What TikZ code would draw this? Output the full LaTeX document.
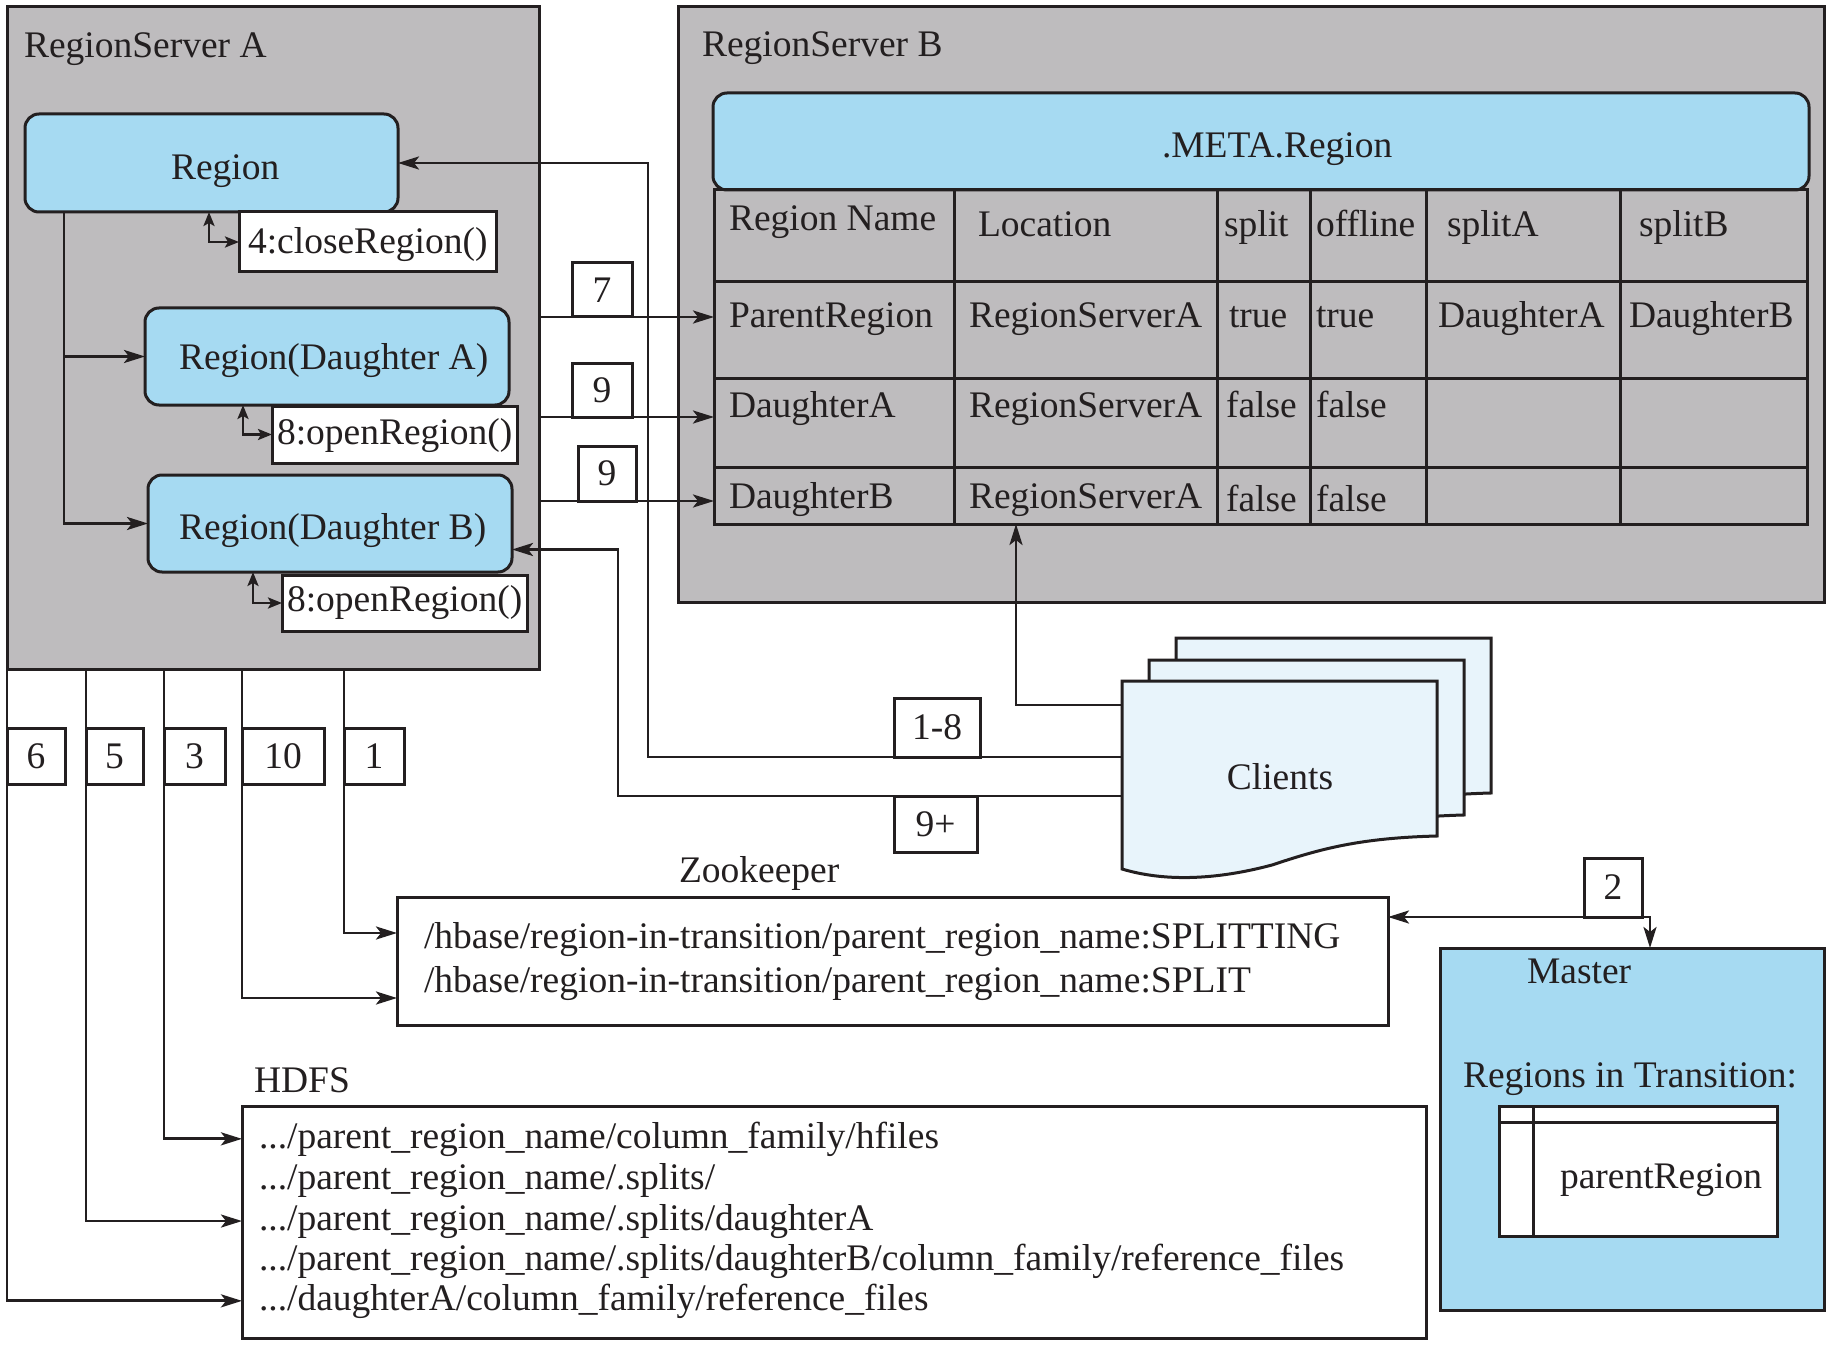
\documentclass[tikz,border=0pt]{standalone}
\usepackage{fontspec}
\setmainfont{Liberation Serif}
\usetikzlibrary{arrows.meta,calc,fit}
\definecolor{ink}{RGB}{35,31,32}
\definecolor{srvgray}{RGB}{190,188,190}
\definecolor{regblue}{RGB}{166,218,242}
\definecolor{sheetblue}{RGB}{232,244,251}
\begin{document}
\begin{tikzpicture}[x=1pt,y=-1pt,
  every node/.style={font=\fontsize{37.5}{44}\selectfont, text=ink, inner sep=0pt, outer sep=0pt},
  frame/.style={draw=ink, line width=3pt, rectangle, inner sep=0pt},
  server/.style={frame, fill=srvgray},
  region/.style={frame, fill=regblue, rounded corners=14pt},
  tag/.style={frame, fill=white},
  txt/.style={anchor=base west},
  conn/.style={draw=ink, line width=2.8pt},
  arr/.style={conn, -{Stealth[length=21pt,width=13pt,inset=5pt]}},
  loopback/.style={conn, line width=2.6pt, {Stealth[length=14pt,width=11pt,inset=3pt]}-{Stealth[length=14pt,width=11pt,inset=3pt]}},
  both/.style={conn, {Stealth[length=21pt,width=13pt,inset=5pt]}-{Stealth[length=21pt,width=13pt,inset=5pt]}},
  sheet/.pic={
    \draw[ink, line width=3pt, fill=sheetblue]
      (0,0) -- (315,0) -- (315,155)
      .. controls (237,157) and (198,168) .. (150,184)
      .. controls (90,200) and (40,200) .. (0,188) -- cycle;
  },
]
\useasboundingbox (0,0) rectangle (1842,1348);
\fill[white] (0,0) rectangle (1842,1348);

% ---------- RegionServer A ----------
\node[server, fit={(7,7) (539,669)}] (rsA) {};
\node[txt] (rsAt) at (24,58) {RegionServer A};

\node[region, fit={(25,114) (398,212)}] (reg) {};
\node[txt] (regt) at (171,180) {Region};
\node[region, fit={(145,308) (509,405)}] (dA) {};
\node[txt] (dAt) at (179,370) {Region(Daughter A)};
\node[region, fit={(148,475) (512,572)}] (dB) {};
\node[txt] (dBt) at (179,539) {Region(Daughter B)};

\node[tag, fit={(239,212) (496,272)}] (tag4) {};
\node[txt] (tag4t) at (248,254) {4:closeRegion()};
\node[tag, fit={(272,406) (517,463)}] (tag8a) {};
\node[txt] (tag8at) at (277,444) {8:openRegion()};
\node[tag, fit={(282,575) (527,631)}] (tag8b) {};
\node[txt] (tag8bt) at (287,611) {8:openRegion()};

% split of the parent into the two daughters
\coordinate (trunk) at (64,0);
\draw[arr] (reg.south -| trunk) |- (dA.west);
\draw[arr] (reg.south -| trunk) |- (dB.west);

% local calls on each region
\draw[loopback] ($(reg.south west)+(184,0)$) |- (tag4.west);
\draw[loopback] ($(dA.south west)+(98,0)$) |- (tag8a.west);
\draw[loopback] ($(dB.south west)+(105,0)$) |- (tag8b.west);

% ---------- RegionServer B with the .META. table ----------
\node[server, fit={(678,7) (1824,602)}] (rsB) {};
\node[txt] (rsBt) at (702,57) {RegionServer B};
\node[region, fit={(713,93) (1809,190)}] (meta) {};
\node[txt] (metat) at (1162,158) {.META.Region};
\node[frame, fit={(714,190) (1807,524)}] (tbl) {};
\foreach \yy in {282,378,467} \draw[conn, line width=3pt] (714,\yy) -- (1807,\yy);
\foreach \xx in {954,1217,1310,1426,1620} \draw[conn, line width=3pt] (\xx,190) -- (\xx,524);

\node[txt] (c11) at (729,231) {Region Name};
\node[txt] (c12) at (978,237) {Location};
\node[txt] (c13) at (1224,237) {split};
\node[txt] (c14) at (1316,237) {offline};
\node[txt] (c15) at (1447,237) {splitA};
\node[txt] (c16) at (1639,237) {splitB};

\node[txt] (c21) at (729,327) {ParentRegion};
\node[txt] (c22) at (969,327) {RegionServerA};
\node[txt] (c23) at (1229,327) {true};
\node[txt] (c24) at (1316,327) {true};
\node[txt] (c25) at (1438,327) {DaughterA};
\node[txt] (c26) at (1629,327) {DaughterB};

\node[txt] (c31) at (729,417) {DaughterA};
\node[txt] (c32) at (969,417) {RegionServerA};
\node[txt] (c33) at (1226,417) {false};
\node[txt] (c34) at (1316,417) {false};

\node[txt] (c41) at (729,508) {DaughterB};
\node[txt] (c42) at (969,508) {RegionServerA};
\node[txt] (c43) at (1226,511) {false};
\node[txt] (c44) at (1316,511) {false};

% ---------- step labels ----------
\node[tag, fit={(572,263) (632,317)}] (lab7) {};
\node[tag, fit={(572,363) (632,417)}] (lab9a) {};
\node[tag, fit={(578,446) (636,501)}] (lab9b) {};
\node[tag, fit={(894,698) (980,757)}] (lab18) {};
\node[tag, fit={(894,796) (977,852)}] (lab9p) {};
\node[tag, fit={(7,728) (65,784)}] (lab6) {};
\node[tag, fit={(86,728) (143,784)}] (lab5) {};
\node[tag, fit={(164,728) (225,784)}] (lab3) {};
\node[tag, fit={(242,728) (324,784)}] (lab10) {};
\node[tag, fit={(344,728) (404,784)}] (lab1) {};
\node[tag, fit={(1584,858) (1642,917)}] (lab2) {};
\foreach \lab/\num in {lab7/7, lab9a/9, lab9b/9, lab18/1-8, lab9p/9+, lab6/6,
                       lab5/5, lab3/3, lab10/10, lab1/1, lab2/2}
  \node (\lab t) at (\lab.center) {\num};

% .META. updates
\draw[arr] (rsA.east |- lab7.south) -- (tbl.west |- lab7.south);
\draw[arr] (rsA.east |- lab9a.south) -- (tbl.west |- lab9a.south);
\draw[arr] (rsA.east |- lab9b.south) -- (tbl.west |- lab9b.south);

% ---------- Zookeeper ----------
\node[txt] (zkt) at (679,882) {Zookeeper};
\node[frame, fit={(397,897) (1388,1025)}] (zk) {};
\node[txt] (z1) at (424,948) {/hbase/region-in-transition/parent\_region\_name:SPLITTING};
\node[txt] (z2) at (424,992) {/hbase/region-in-transition/parent\_region\_name:SPLIT};
\coordinate (zin1) at (397,933);
\coordinate (zin2) at (397,998);
\draw[arr] (lab1.west |- rsA.south) |- (zin1);
\draw[arr] (lab10.west |- rsA.south) |- (zin2);

% ---------- HDFS ----------
\node[txt] (hdfst) at (254,1092) {HDFS};
\node[frame, fit={(242,1106) (1426,1338)}] (hdfs) {};
\node[txt] (h1) at (259,1148) {.../parent\_region\_name/column\_family/hfiles};
\node[txt] (h2) at (259,1189) {.../parent\_region\_name/.splits/};
\node[txt] (h3) at (259,1230) {.../parent\_region\_name/.splits/daughterA};
\node[txt] (h4) at (259,1270) {.../parent\_region\_name/.splits/daughterB/column\_family/reference\_files};
\node[txt] (h5) at (259,1310) {.../daughterA/column\_family/reference\_files};
\draw[arr] (lab3.west |- rsA.south) |- (hdfs.west |- h1);
\draw[arr] (lab5.west |- rsA.south) |- (hdfs.west |- h3);
\draw[arr] (lab6.west |- rsA.south) |- (hdfs.west |- h5);

% ---------- Master ----------
\node[frame, fill=regblue, fit={(1440,948) (1824,1310)}] (master) {};
\node[txt] (mastert) at (1527,983) {Master};
\node[txt] (ritt) at (1463,1087) {Regions in Transition:};
\node[frame, fill=white, fit={(1499,1106) (1777,1236)}] (rit) {};
\draw[conn, line width=3pt] ($(rit.north west)+(0,16)$) -- ($(rit.north east)+(0,16)$);
\draw[conn, line width=3pt] ($(rit.north west)+(34,0)$) -- ($(rit.south west)+(34,0)$);
\node[txt] (ritv) at (1560,1188) {parentRegion};
\draw[both] (zk.east |- lab2.south) -| ($(master.north)+(18,0)$);

% ---------- Clients ----------
\pic at (1176,638) {sheet};
\pic at (1149,660) {sheet};
\pic at (1122,681) {sheet};
\node[fit={(1122,681) (1437,869)}] (cl) {};
\node[anchor=base] (clt) at (1280,789) {Clients};

\draw[arr] (cl.west |- lab18.south) -| ($(reg.east)+(250,0)$) -- (reg.east);
\draw[arr] (cl.west |- lab9p.north) -| ($(dB.east)+(106,26)$) -- ($(dB.east)+(0,26)$);
\draw[arr] (cl.west |- 0,705) -| ($(tbl.south west)+(302,0)$);
\end{tikzpicture}
\end{document}
